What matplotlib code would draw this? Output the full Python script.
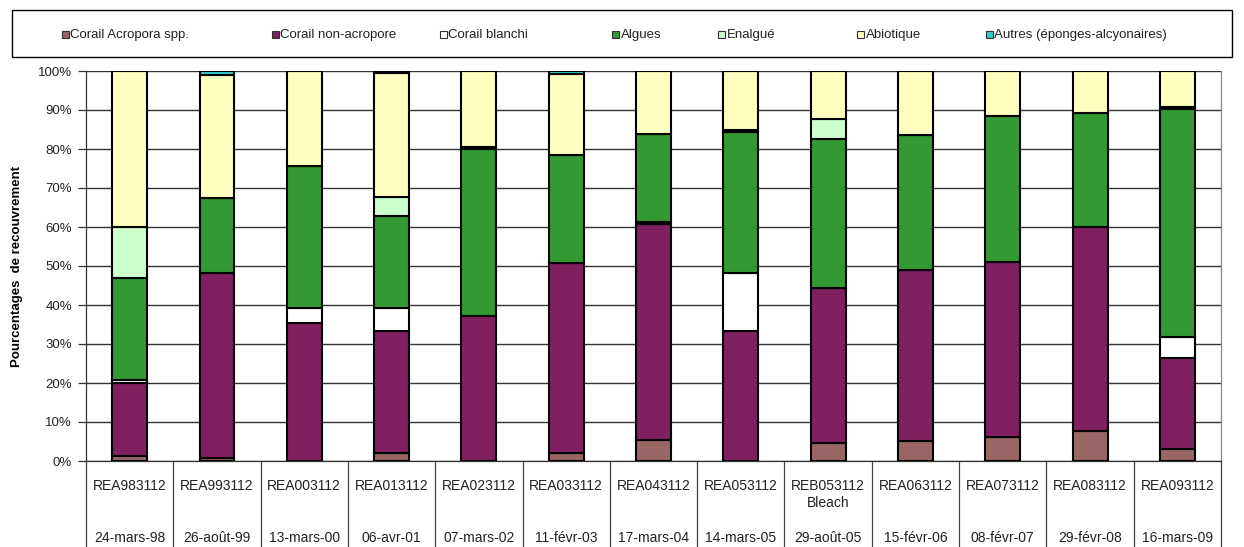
import matplotlib
matplotlib.use("Agg")
import matplotlib.pyplot as plt
from matplotlib.patches import Rectangle
from matplotlib.lines import Line2D
import numpy as np

plt.rcParams['font.family'] = ['Liberation Sans', 'DejaVu Sans']

# Stations and survey dates
stations = ["REA983112", "REA993112", "REA003112", "REA013112", "REA023112",
            "REA033112", "REA043112", "REA053112", "REB053112\nBleach",
            "REA063112", "REA073112", "REA083112", "REA093112"]
dates = ["24-mars-98", "26-août-99", "13-mars-00", "06-avr-01", "07-mars-02",
         "11-févr-03", "17-mars-04", "14-mars-05", "29-août-05", "15-févr-06",
         "08-févr-07", "29-févr-08", "16-mars-09"]

# Cover percentages per category
acropora     = [1.4, 0.7, 0.0, 2.0, 0.0, 2.0, 5.4, 0.0, 4.5, 5.2, 6.2, 7.8, 3.0]
non_acropore = [18.7, 47.4, 35.3, 31.4, 37.2, 48.7, 55.4, 33.3, 39.9, 43.9, 44.8, 52.1, 23.3]
blanchi      = [0.7, 0.0, 4.0, 5.9, 0.0, 0.0, 0.6, 14.8, 0.0, 0.0, 0.0, 0.0, 5.4]
algues       = [26.0, 19.4, 36.3, 23.5, 42.7, 27.8, 22.4, 36.2, 38.2, 34.4, 37.5, 29.4, 58.5]
enalgue      = [13.1, 0.0, 0.0, 5.0, 0.5, 0.0, 0.0, 0.7, 5.0, 0.0, 0.0, 0.0, 0.5]
abiotique    = [40.1, 31.6, 24.4, 31.7, 19.6, 20.7, 16.2, 15.0, 12.4, 16.5, 11.5, 10.7, 9.3]
autres       = [0.0, 0.9, 0.0, 0.5, 0.0, 0.8, 0.0, 0.0, 0.0, 0.0, 0.0, 0.0, 0.0]

series_names = ["Corail Acropora spp.", "Corail non-acropore", "Corail blanchi",
                "Algues", "Enalgué", "Abiotique", "Autres (éponges-alcyonaires)"]
series_values = [acropora, non_acropore, blanchi, algues, enalgue, abiotique, autres]
series_colors = ["#996666", "#802060", "#FFFFFF", "#339933", "#CCFFCC", "#FFFFC0", "#33CCCC"]

W, H = 1244, 547
fig = plt.figure(figsize=(W / 100, H / 100), dpi=100)
fig.patch.set_facecolor("white")

# Plot area in pixel coordinates
left, right, top, bottom = 86, 1221, 71, 461
ax = fig.add_axes([left / W, 1 - bottom / H, (right - left) / W, (bottom - top) / H])

x = np.arange(len(stations))
base = np.zeros(len(stations))
for name, vals, col in zip(series_names, series_values, series_colors):
    vals = np.array(vals)
    ax.bar(x, vals, width=0.40, bottom=base, color=col, edgecolor="black",
           linewidth=1.5, label=name, zorder=3)
    base += vals

ax.set_xlim(-0.5, len(stations) - 0.5)
ax.set_ylim(0, 100)
ax.set_yticks(np.arange(0, 101, 10))
ax.set_yticklabels([f"{v}%" for v in range(0, 101, 10)])
ax.tick_params(axis="y", length=6, width=0.9, color="#333333", labelsize=9.5,
               pad=4, labelcolor="#222222")
ax.set_xticks([])
ax.yaxis.grid(True, color="#333333", linewidth=1.0, zorder=0)

ax.spines["top"].set_visible(False)
ax.spines["right"].set_color("#888888")
ax.spines["right"].set_linewidth(0.9)
for s in ["left", "bottom"]:
    ax.spines[s].set_color("#333333")
    ax.spines[s].set_linewidth(0.9)

ax.set_ylabel("Pourcentages  de recouvrement", fontsize=9.5, fontweight="bold")
ax.yaxis.set_label_coords(-(left - 23) / (right - left), 0.5)

# Category table below the axis
axis_h = bottom - top
ext = (H - bottom) / axis_h
for i in range(len(stations) + 1):
    xb = i - 0.5
    ax.add_line(Line2D([xb, xb], [0, -ext * 100], color="#444444", linewidth=0.9,
                       clip_on=False))
for i, (st, dt) in enumerate(zip(stations, dates)):
    ax.text(i, -(479 - bottom) / axis_h * 100, st, ha="center", va="top",
            fontsize=10, color="#222222", linespacing=1.3, clip_on=False)
    ax.text(i, -(542 - bottom) / axis_h * 100, dt, ha="center", va="baseline",
            fontsize=10, color="#222222", clip_on=False)

# Legend box across the top
fig.add_artist(Rectangle((12 / W, 1 - 57 / H), (1232 - 12) / W, (57 - 10) / H,
                         transform=fig.transFigure, facecolor="white",
                         edgecolor="black", linewidth=1.0))
leg_x = [62, 272, 440, 612, 718, 857, 986]
leg_base = 38
for px, name, col in zip(leg_x, series_names, series_colors):
    fig.add_artist(Rectangle((px / W, 1 - leg_base / H), 7 / W, 7 / H,
                             transform=fig.transFigure, facecolor=col,
                             edgecolor="#333333", linewidth=0.8))
    fig.text((px + 8.5) / W, 1 - leg_base / H, name, ha="left", va="baseline",
             fontsize=9.5, color="#222222")

fig.savefig("out.png", dpi=100, facecolor="white")
